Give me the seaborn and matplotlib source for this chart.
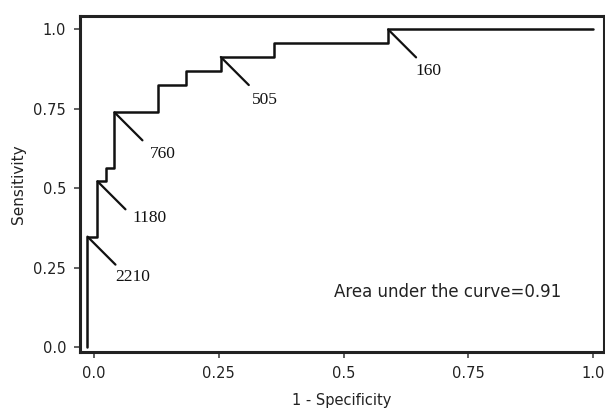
import matplotlib
matplotlib.use("Agg")
import matplotlib.pyplot as plt
import seaborn as sns
import pandas as pd

# ROC step corners (1 - specificity, sensitivity)
fpr = [-0.013, -0.013, 0.007, 0.024, 0.041, 0.128, 0.184, 0.254, 0.360, 0.589, 1.0]
tpr = [0.0, 0.348, 0.522, 0.565, 0.739, 0.826, 0.870, 0.913, 0.957, 1.0, 1.0]

# cut-off labels and the corner index they belong to
cut_labels = ["2210", "1180", "760", "505", "160"]
cut_index = [1, 2, 4, 7, 9]

tick_vals = [0.0, 0.25, 0.5, 0.75, 1.0]
tick_labels = ["0.0", "0.25", "0.5", "0.75", "1.0"]
auc_text = "Area under the curve=0.91"

# text offsets (pixels) relative to corner, per label
text_offsets = [(45, -40), (52, -37), (48, -42), (44, -43), (40, -42)]

sns.set_theme(style="white")
plt.rcParams["font.family"] = ["DejaVu Sans"]

fig = plt.figure(figsize=(6.05, 4.08), dpi=100)
ax = fig.add_axes([0.1322, 0.138, 0.998 - 0.1322, 0.9615 - 0.138])

df = pd.DataFrame({"fpr": fpr, "tpr": tpr})
sns.lineplot(data=df, x="fpr", y="tpr", sort=False, estimator=None,
             drawstyle="steps-post", color="#111111", linewidth=1.8, ax=ax)

for lab, idx, off in zip(cut_labels, cut_index, text_offsets):
    x, y = fpr[idx], tpr[idx]
    ax.annotate("", xy=(x, y), xytext=(28, -28), textcoords="offset pixels",
                arrowprops=dict(arrowstyle="-", lw=1.6, color="#111111",
                                shrinkA=0, shrinkB=0))
    ax.annotate(lab, xy=(x, y), xytext=off, textcoords="offset pixels",
                ha="center", va="center", fontsize=12.5,
                family=["Liberation Serif"], color="#111111")

ax.text(0.7086, 0.173, auc_text, ha="center", va="center",
        fontsize=12, color="#222222")

ax.set_xlim(-0.028, 1.021)
ax.set_ylim(-0.014, 1.043)
ax.set_xticks(tick_vals)
ax.set_xticklabels(tick_labels)
ax.set_yticks(tick_vals)
ax.set_yticklabels(tick_labels)
ax.set_xlabel("1 - Specificity", fontsize=10.5, color="#222222", labelpad=9)
ax.set_ylabel("Sensitivity", fontsize=11, color="#222222", labelpad=5)

for s in ax.spines.values():
    s.set_visible(True)
    s.set_color("#222222")
    s.set_linewidth(2.2)

ax.tick_params(axis="both", which="major", direction="out", length=4,
               width=1.2, color="#444444", labelsize=10.5,
               labelcolor="#222222", pad=6, left=True, bottom=True)
ax.grid(False)

fig.savefig("out.png", dpi=100)
